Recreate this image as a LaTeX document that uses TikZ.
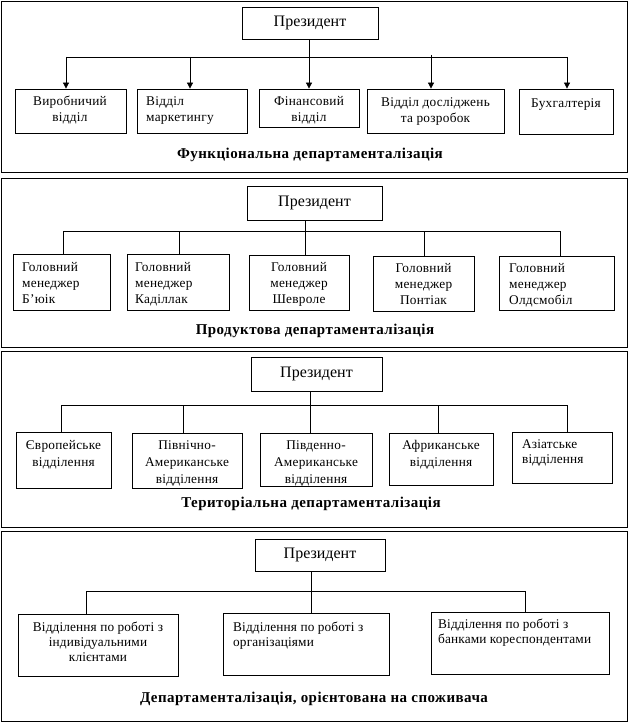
\documentclass[tikz,border=0pt]{standalone}
\usepackage{fontspec}
\setmainfont{Liberation Serif}
\usetikzlibrary{arrows.meta,calc}
\newcommand{\orgbox}[5]{%
  \pgfmathsetmacro{\obw}{#4-#2}%
  \pgfmathsetmacro{\obh}{#5-#3}%
  \node[box, minimum width=\obw pt, minimum height=\obh pt] (#1) at ({(#2+#4)/2},{(#3+#5)/2}) {};}
\begin{document}
\begin{tikzpicture}[x=1pt,y=-1pt,
  box/.style={draw, line width=0.8pt, inner sep=0pt},
  frame/.style={draw, line width=0.9pt},
  txt/.style={inner sep=0pt, font=\fontsize{13.3}{16}\selectfont\addfontfeatures{LetterSpace=2}},
  txtb/.style={inner sep=0pt, font=\fontsize{13.3}{17}\selectfont\addfontfeatures{LetterSpace=2}},
  txtc/.style={inner sep=0pt, font=\fontsize{13.3}{15}\selectfont\addfontfeatures{LetterSpace=1}},
  pres/.style={inner sep=0pt, font=\fontsize{16}{19}\selectfont},
  ttl/.style={inner sep=0pt, font=\bfseries\fontsize{15}{17}\selectfont\addfontfeatures{LetterSpace=3}},
  conn/.style={line width=0.8pt},
  arr/.style={conn, -{Triangle[width=6pt,length=6pt]}},
]
\useasboundingbox (0,0) rectangle (631,722);

% ---------------- Panel 1 ----------------
\draw[frame] (1,1) rectangle (627,172);
\orgbox{p1}{242}{7}{378}{39}
\node[pres] (p1t) at (p1) {Президент};
\orgbox{a1}{15}{89}{126}{133}
\orgbox{b1}{137}{89}{247}{133}
\orgbox{c1}{259}{89}{359}{127}
\orgbox{d1}{367}{89}{504}{133}
\orgbox{e1}{519}{89}{613}{134}
\node[txt, anchor=north, align=center] (a1t) at (70,96) {Виробничий\\відділ};
\node[txt, anchor=north west, align=left] (b1t) at (146,96) {Відділ\\маркетингу};
\node[txt, anchor=north, align=center] (c1t) at (309,96) {Фінансовий\\відділ};
\node[txt, anchor=north, align=center] (d1t) at (435.5,97) {Відділ досліджень\\та розробок};
\node[txt, anchor=north, align=center] (e1t) at (566,98) {Бухгалтерія};
\coordinate (j1a) at (66,57);
\coordinate (j1b) at (190,57);
\coordinate (j1d) at (431,55);
\coordinate (j1e) at (567,57);
\draw[conn] (j1a) -- (j1e);
\draw[arr] (j1a) -- (j1a |- a1.north);
\draw[arr] (j1b) -- (j1b |- b1.north);
\draw[arr] (c1.north |- p1.south) -- (c1.north);
\draw[arr] (j1d) -- (j1d |- d1.north);
\draw[arr] (j1e) -- (j1e |- e1.north);
\node[ttl, anchor=base] (t1) at (310,159) {Функціональна департаменталізація};

% ---------------- Panel 2 ----------------
\draw[frame] (1,178) rectangle (627,347);
\orgbox{p2}{247}{186}{382}{220}
\node[pres] (p2t) at (p2) {Президент};
\orgbox{a2}{13}{254}{110}{310}
\orgbox{b2}{127}{254}{229}{310}
\orgbox{c2}{249}{255}{349}{310}
\orgbox{d2}{373}{256}{474}{311}
\orgbox{e2}{499}{256}{614}{310}
\node[txt, anchor=north west, align=left] (a2t) at (22,262) {Головний\\менеджер\\Б’юік};
\node[txt, anchor=north west, align=left] (b2t) at (135,262) {Головний\\менеджер\\Каділлак};
\node[txt, anchor=north, align=center] (c2t) at (299,262) {Головний\\менеджер\\Шевроле};
\node[txt, anchor=north, align=center] (d2t) at (423.5,263) {Головний\\менеджер\\Понтіак};
\node[txt, anchor=north west, align=left] (e2t) at (509,263) {Головний\\менеджер\\Олдсмобіл};
\coordinate (j2a) at (63,231);
\coordinate (j2b) at (179,231);
\coordinate (j2c) at (305,231);
\coordinate (j2d) at (424,231);
\coordinate (j2e) at (560,231);
\draw[conn] (j2a) -- (j2e);
\draw[conn] (j2a) -- (j2a |- a2.north);
\draw[conn] (j2b) -- (j2b |- b2.north);
\draw[conn] (j2c |- p2.south) -- (j2c |- c2.north);
\draw[conn] (j2d) -- (j2d |- d2.north);
\draw[conn] (j2e) -- (j2e |- e2.north);
\node[ttl, anchor=base] (t2) at (315,334) {Продуктова департаменталізація};

% ---------------- Panel 3 ----------------
\draw[frame] (1,351) rectangle (627,527);
\orgbox{p3}{251}{357}{382}{391}
\node[pres] (p3t) at (p3) {Президент};
\orgbox{a3}{16}{432}{111}{488}
\orgbox{b3}{132}{433}{242}{488}
\orgbox{c3}{260}{433}{372}{486}
\orgbox{d3}{389}{433}{493}{485}
\orgbox{e3}{512}{432}{612}{483}
\node[txtb, anchor=north, align=center] (a3t) at (63.5,440) {Європейське\\відділення};
\node[txtb, anchor=north, align=center] (b3t) at (187,440) {Північно-\\Американське\\відділення};
\node[txtb, anchor=north, align=center] (c3t) at (316,440) {Південно-\\Американське\\відділення};
\node[txtb, anchor=north, align=center] (d3t) at (441,440) {Африканське\\відділення};
\node[txtc, anchor=north west, align=left] (e3t) at (522,439) {Азіатське\\відділення};
\coordinate (j3a) at (61,405);
\coordinate (j3b) at (183,405);
\coordinate (j3c) at (310,405);
\coordinate (j3d) at (438,405);
\coordinate (j3e) at (567,405);
\draw[conn] (j3a) -- (j3e);
\draw[conn] (j3a) -- (j3a |- a3.north);
\draw[conn] (j3b) -- (j3b |- b3.north);
\draw[conn] (j3c |- p3.south) -- (j3c |- c3.north);
\draw[conn] (j3d) -- (j3d |- d3.north);
\draw[conn] (j3e) -- (j3e |- e3.north);
\node[ttl, anchor=base] (t3) at (311,507) {Територіальна департаменталізація};

% ---------------- Panel 4 ----------------
\draw[frame] (1,531) rectangle (627,721);
\orgbox{p4}{255}{539}{385}{571}
\node[pres] (p4t) at (p4) {Президент};
\orgbox{a4}{18}{614}{178}{676}
\orgbox{b4}{223}{613}{389}{675}
\orgbox{c4}{431}{612}{609}{674}
\node[txtc, anchor=north, align=center] (a4t) at (98,622) {Відділення по роботі з\\індивідуальними\\клієнтами};
\node[txtc, anchor=north west, align=left] (b4t) at (233,622) {Відділення по роботі з\\організаціями};
\node[txtc, anchor=north west, align=left] (c4t) at (438,619) {Відділення по роботі з\\банками кореспондентами};
\coordinate (j4a) at (86,591);
\coordinate (j4c) at (311,591);
\coordinate (j4e) at (525,591);
\draw[conn] (j4a) -- (j4e);
\draw[conn] (j4a) -- (j4a |- a4.north);
\draw[conn] (j4c |- p4.south) -- (j4c |- b4.north);
\draw[conn] (j4e) -- (j4e |- c4.north);
\node[ttl, anchor=base] (t4) at (314,702) {Департаменталізація, орієнтована на споживача};
\end{tikzpicture}
\end{document}
